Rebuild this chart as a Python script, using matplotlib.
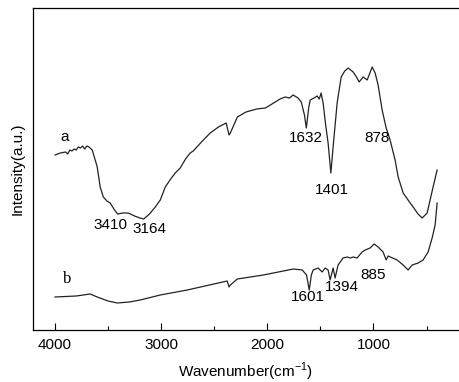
import numpy as np
import matplotlib
matplotlib.use("Agg")
import matplotlib.pyplot as plt
from matplotlib.ticker import MultipleLocator

plt.rcParams['font.family'] = ['Liberation Sans', 'DejaVu Sans']
plt.rcParams['mathtext.fontset'] = 'custom'
plt.rcParams['mathtext.rm'] = 'Liberation Sans'

# spectrum a (wavenumber, intensity)
wn_a = [4000, 3950, 3900, 3880, 3860, 3840, 3820, 3800, 3780, 3760, 3740, 3720, 3700, 3680,
        3649, 3621, 3602, 3574, 3545, 3510, 3480, 3445, 3410, 3360, 3310, 3250, 3200, 3164,
        3110, 3055, 3008, 2961, 2910, 2867, 2820, 2770, 2726, 2698, 2620, 2538, 2460, 2387,
        2360, 2348, 2282, 2200, 2100, 2018, 1940, 1880, 1832, 1790, 1757, 1710, 1680, 1650,
        1632, 1610, 1596, 1560, 1530, 1510, 1493, 1474, 1450, 1427, 1401, 1380, 1342, 1304,
        1270, 1238, 1191, 1160, 1135, 1097, 1059, 1030, 1012, 984, 956, 918, 880, 843, 796,
        767, 720, 654, 626, 580, 541, 494, 438, 400]
int_a = [175, 177, 178, 176, 180, 179, 181, 180, 183, 182, 184, 181, 184, 183,
         180, 170, 163, 143, 133, 129, 127, 121, 116, 117, 117, 114, 112, 111,
         116, 123, 130, 143, 151, 157, 162, 171, 177, 179, 188, 197, 203, 207,
         195, 197, 213, 218, 221, 222, 227, 231, 233, 232, 235, 232, 228, 215,
         202, 222, 230, 232, 234, 231, 237, 227, 205, 187, 157, 183, 227, 253,
         259, 262, 258, 253, 248, 253, 250, 258, 263, 257, 245, 220, 202, 190, 170,
         153, 137, 127, 123, 116, 112, 117, 143, 160]

# spectrum b
wn_b = [4000, 3800, 3668, 3602, 3500, 3414, 3300, 3197, 3008, 2754, 2378, 2360, 2348, 2282,
        2037, 1755, 1671, 1630, 1605, 1585, 1568, 1521, 1483, 1455, 1427, 1408, 1380, 1361,
        1333, 1286, 1248, 1220, 1191, 1154, 1107, 1078, 1031, 994, 956, 909, 880, 862, 777,
        720, 673, 635, 579, 532, 485, 447, 419, 400]
int_b = [33, 34, 36, 33, 29, 27, 28, 30, 35, 40, 49, 43, 45, 51,
         55, 61, 60, 55, 40, 55, 60, 62, 58, 62, 60, 50, 62, 52,
         65, 72, 73, 72, 73, 72, 78, 80, 82, 86, 83, 78, 70, 74, 70,
         65, 60, 65, 67, 70, 78, 92, 105, 127]

# peak labels
peak_txt = ['3410', '3164', '1632', '878', '1401', '1601', '1394', '885']
peak_x = [3479, 3112, 1633, 965, 1388, 1614, 1295, 1003]
peak_y = [105, 101, 192, 192, 140, 33, 43, 55]

fig = plt.figure(figsize=(4.59, 3.82), dpi=100)
ax = fig.add_axes([33/459, 52/382, 426/459, 322/382])

ax.plot(wn_a, int_a, color='#222222', lw=0.9)
ax.plot(wn_b, int_b, color='#222222', lw=0.9)

for t, x, y in zip(peak_txt, peak_x, peak_y):
    ax.text(x, y, t, ha='center', va='center', fontsize=11)
ax.text(3912, 193, 'a', ha='center', va='center', fontsize=11)
ax.text(3884, 51, 'b', ha='center', va='center', fontsize=12, family='Liberation Serif')

ax.set_xlim(4207, 194)
ax.set_ylim(0, 322)
ax.xaxis.set_major_locator(MultipleLocator(1000))
ax.xaxis.set_minor_locator(MultipleLocator(500))
ax.tick_params(axis='x', which='major', direction='in', length=5, width=0.8, labelsize=11, pad=6)
ax.tick_params(axis='x', which='minor', direction='in', length=3, width=0.8)
ax.set_yticks([])
ax.spines['right'].set_visible(False)
for s in ['left', 'top', 'bottom']:
    ax.spines[s].set_linewidth(0.9)

ax.set_xlabel('Wavenumber(cm$^{-1}$)', fontsize=11, labelpad=6)
ax.set_ylabel('Intensity(a.u.)', fontsize=11, labelpad=6)

fig.savefig('out.png', dpi=100)
